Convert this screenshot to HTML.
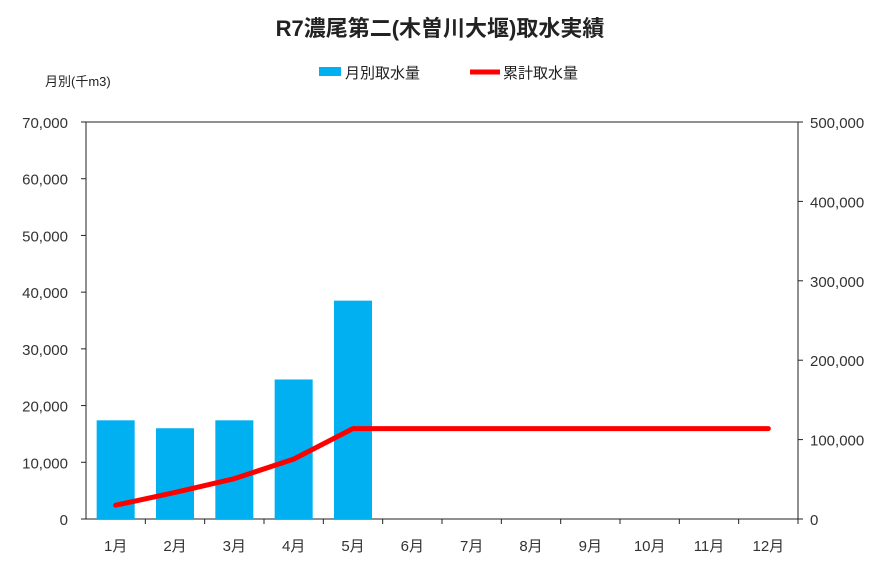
<!DOCTYPE html>
<html><head><meta charset="utf-8"><style>
body{margin:0;background:#fff;font-family:"Liberation Sans","Noto Sans CJK JP",sans-serif;}
svg text{font-family:"Liberation Sans","Noto Sans CJK JP",sans-serif;}
</style></head><body>
<svg id="chart" width="877" height="563">
<text x="440" y="36" text-anchor="middle" font-size="22" font-weight="bold" fill="#222">R7濃尾第二(木曽川大堰)取水実績</text>
<text x="45" y="86" font-size="13" fill="#222">月別(千m3)</text>
<g>
<rect x="319" y="67" width="22" height="9" fill="#00b0f0"/>
<text x="345" y="78" font-size="15" fill="#222">月別取水量</text>
<line x1="470" y1="72" x2="500" y2="72" stroke="#ff0000" stroke-width="5"/>
<text x="503" y="78" font-size="15" fill="#222">累計取水量</text>
</g>
<g id="plot"></g>
</svg>
<script>
const categories=["1月","2月","3月","4月","5月","6月","7月","8月","9月","10月","11月","12月"];
const monthly=[17400,16000,17400,24600,38500,null,null,null,null,null,null,null];
const cumulative=[17400,33400,50800,75400,113900,113900,113900,113900,113900,113900,113900,113900];
const leftTicks=[0,10000,20000,30000,40000,50000,60000,70000];
const rightTicks=[0,100000,200000,300000,400000,500000];
const X0=86,X1=798,Y0=519,Y1=122;
const yL=v=>Y0-(v/70000)*(Y0-Y1);
const yR=v=>Y0-(v/500000)*(Y0-Y1);
const bw=(X1-X0)/categories.length;
const xc=i=>X0+bw*(i+0.5);
const ns="http://www.w3.org/2000/svg";
const g=document.getElementById('plot');
function mk(t,a){const e=document.createElementNS(ns,t);for(const k in a)e.setAttribute(k,a[k]);g.appendChild(e);return e;}
let e;
e=mk('rect',{x:X0,y:Y1,width:X1-X0,height:Y0-Y1,fill:'none',stroke:'#222','stroke-width':1});


leftTicks.forEach(v=>{
 e=mk('line',{x1:X0-5,x2:X0,y1:yL(v),y2:yL(v),stroke:'#222'});
 
 
 e=mk('text',{x:X0-18,y:yL(v)+6,'text-anchor':'end','font-size':15,fill:'#333'});
 e.textContent=v.toLocaleString('en-US');
 
 
});
rightTicks.forEach(v=>{
 e=mk('line',{x1:X1,x2:X1+5,y1:yR(v),y2:yR(v),stroke:'#222'});
 
 
 e=mk('text',{x:X1+12,y:yR(v)+6,'text-anchor':'start','font-size':15,fill:'#333'});
 e.textContent=v.toLocaleString('en-US');
 
 
});
categories.forEach((c,i)=>{
 e=mk('line',{x1:X0+bw*(i+1),x2:X0+bw*(i+1),y1:Y0,y2:Y0+5,stroke:'#222'});
 
 
 e=mk('text',{x:xc(i),y:Y0+32,'text-anchor':'middle','font-size':15,fill:'#333'});
 e.textContent=c;
 
 
 if(monthly[i]!=null){
  e=mk('rect',{x:xc(i)-19,y:yL(monthly[i]),width:38,height:Y0-yL(monthly[i]),fill:'#00b0f0'});
  
  
 }
});
e=mk('polyline',{points:cumulative.map((v,i)=>xc(i)+','+yR(v)).join(' '),fill:'none',stroke:'#ff0000','stroke-width':5,'stroke-linejoin':'round','stroke-linecap':'round'});


</script>
</body></html>
